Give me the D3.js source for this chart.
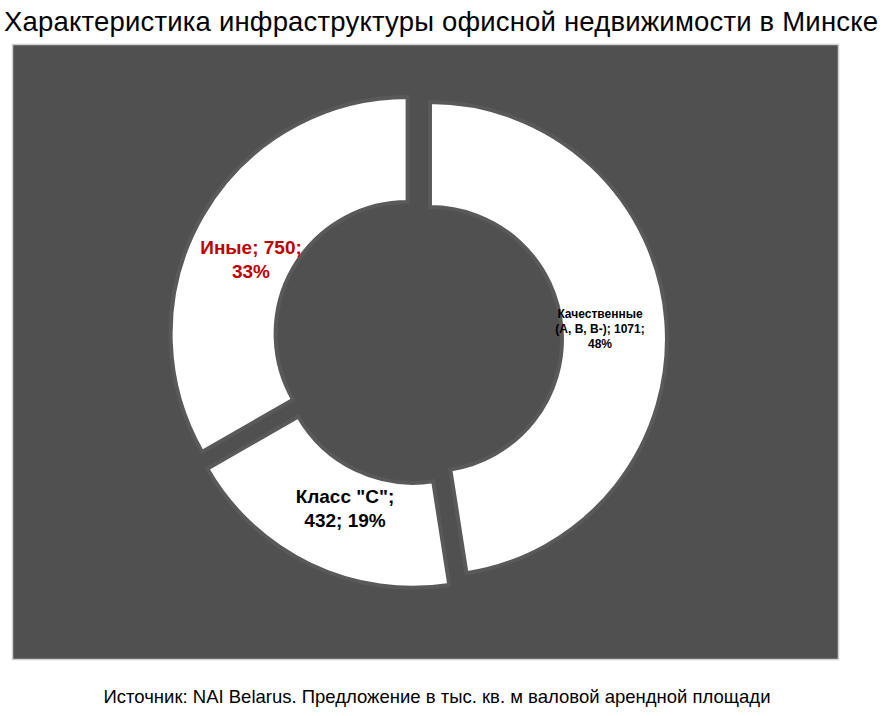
<!DOCTYPE html>
<html><head><meta charset="utf-8">
<script src="https://cdn.jsdelivr.net/npm/d3@7"></script>
<style>body{margin:0;background:#fff;font-family:"Liberation Sans",Arial,sans-serif}</style>
</head><body><svg id="c" width="889" height="716"></svg>
<script>
const categories = ["Качественные (А, В, В-)", "Класс \"С\"", "Иные"];
const values = [1071, 432, 750];
const percents = ["48%", "19%", "33%"];
const labelLines = [["Качественные", "(А, В, В-); 1071;", "48%"], ["Класс \"С\";", "432; 19%"], ["Иные; 750;", "33%"]];
const labelColors = ["#000", "#000", "#c00000"];
const labelSizes = [12, 19, 19];

const svg = d3.select("#c");
svg.append("text").attr("x", 4).attr("y", 31).attr("font-size", 27.5).attr("fill", "#000")
  .attr("textLength", 874).text("Характеристика инфраструктуры офисной недвижимости в Минске");
svg.append("rect").attr("x", 12.5).attr("y", 44.5).attr("width", 826).attr("height", 615)
  .attr("fill", "#505050").attr("stroke", "#d0d0d0").attr("stroke-width", 1.5);
svg.append("text").attr("x", 437).attr("y", 703).attr("text-anchor", "middle").attr("font-size", 18.5)
  .text("Источник: NAI Belarus. Предложение в тыс. кв. м валовой арендной площади");

const cx = 418, cy = 340, R = 237, r = 132, off = 12;
const pie = d3.pie().sort(null).value(d => d)(values);
const arc = d3.arc().innerRadius(r).outerRadius(R);
const g = svg.append("g").attr("transform", `translate(${cx},${cy})`);
pie.forEach((p, i) => {
  const m = (p.startAngle + p.endAngle) / 2;
  const dx = Math.sin(m) * off, dy = -Math.cos(m) * off;
  const sg = g.append("g").attr("transform", `translate(${dx},${dy})`);
  sg.append("path").attr("d", arc(p)).attr("fill", "#fff").attr("stroke", "#595959").attr("stroke-width", 4);
});
const labelPos = [[600, 318], [345, 503], [251, 254]];
labelLines.forEach((lines, i) => {
  const t = svg.append("text").attr("text-anchor", "middle").attr("font-weight", "bold")
    .attr("font-size", labelSizes[i]).attr("fill", labelColors[i]);
  lines.forEach((l, j) => t.append("tspan").attr("x", labelPos[i][0])
    .attr("y", labelPos[i][1] + j * labelSizes[i] * 1.25).text(l));
});
</script></body></html>
